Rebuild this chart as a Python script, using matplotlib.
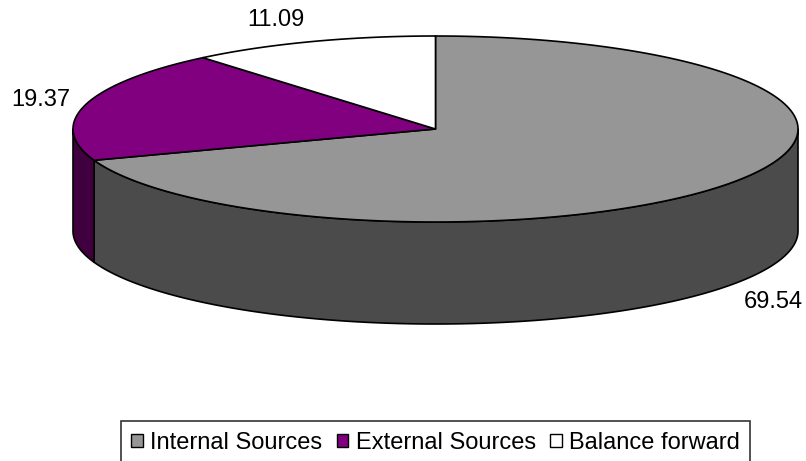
import numpy as np
import matplotlib
matplotlib.use("Agg")
from matplotlib import pyplot as plt
from matplotlib.patches import Polygon, Patch

# shares of the funding sources (%)
labels = ['Internal Sources', 'External Sources', 'Balance forward']
values = [69.54, 19.37, 11.09]
top_colors = ['#969696', '#800080', '#ffffff']
side_colors = ['#4b4b4b', '#400040', '#808080']
# label offsets from the slice edge, in pixels
label_offsets = [(41, 17), (-45, -5), (-36, -22)]

# pie geometry in pixels
cx, cy = 435.5, 129.0
rx, ry = 362.5, 93.0
depth = 102.0
lw = 1.2

plt.rcParams['font.family'] = ['Liberation Sans', 'DejaVu Sans']

fig = plt.figure(figsize=(8.06, 4.61), dpi=100)
ax = fig.add_axes([0, 0, 1, 1])
ax.set_xlim(0, 806)
ax.set_ylim(461, 0)
ax.axis('off')


def ell(theta, dz=0.0):
    t = np.radians(theta)
    return cx + rx * np.cos(t), cy - ry * np.sin(t) + dz


# slice angles, clockwise from 12 o'clock
total = sum(values)
ends = []
a = 90.0
for v in values:
    b = a - 360.0 * v / total
    ends.append((b, a))
    a = b

# side walls (front half only: 180..360 deg)
for (a0, a1), sc in zip(ends, side_colors):
    lo, hi = a0 % 360, a0 % 360 + (a1 - a0)
    for shift in (0, -360, 360):
        s0 = max(lo + shift, 180)
        s1 = min(hi + shift, 360)
        if s1 > s0:
            th = np.linspace(s0, s1, 200)
            x, y = ell(th)
            xb, yb = ell(th[::-1], depth)
            pts = np.column_stack([np.concatenate([x, xb]), np.concatenate([y, yb])])
            ax.add_patch(Polygon(pts, closed=True, facecolor=sc, edgecolor='black', lw=lw, joinstyle='round'))

# top face
for (a0, a1), tc in zip(ends, top_colors):
    th = np.linspace(a1, a0, 300)
    x, y = ell(th)
    pts = np.column_stack([np.concatenate([[cx], x]), np.concatenate([[cy], y])])
    ax.add_patch(Polygon(pts, closed=True, facecolor=tc, edgecolor='black', lw=lw, joinstyle='round'))

# value labels
for (a0, a1), v, (dx, dy) in zip(ends, values, label_offsets):
    mid = (a0 + a1) / 2
    px, py = ell(mid)
    if np.sin(np.radians(mid)) < 0:
        py += depth
    ax.text(px + dx, py + dy, '%.2f' % v, ha='center', va='center', fontsize=17, color='black')

handles = [Patch(facecolor=c, edgecolor='black', lw=1.0) for c in top_colors]
leg = ax.legend(handles, labels, loc='upper center', bbox_to_anchor=(435.5, 421),
                bbox_transform=ax.transData, ncol=3, fontsize=17, frameon=True,
                fancybox=False, edgecolor='black', handlelength=0.5, handleheight=0.5,
                handletextpad=0.3, columnspacing=0.6, borderpad=0.45, borderaxespad=0)
leg.get_frame().set_linewidth(1.2)

fig.savefig('out.png', dpi=100)
